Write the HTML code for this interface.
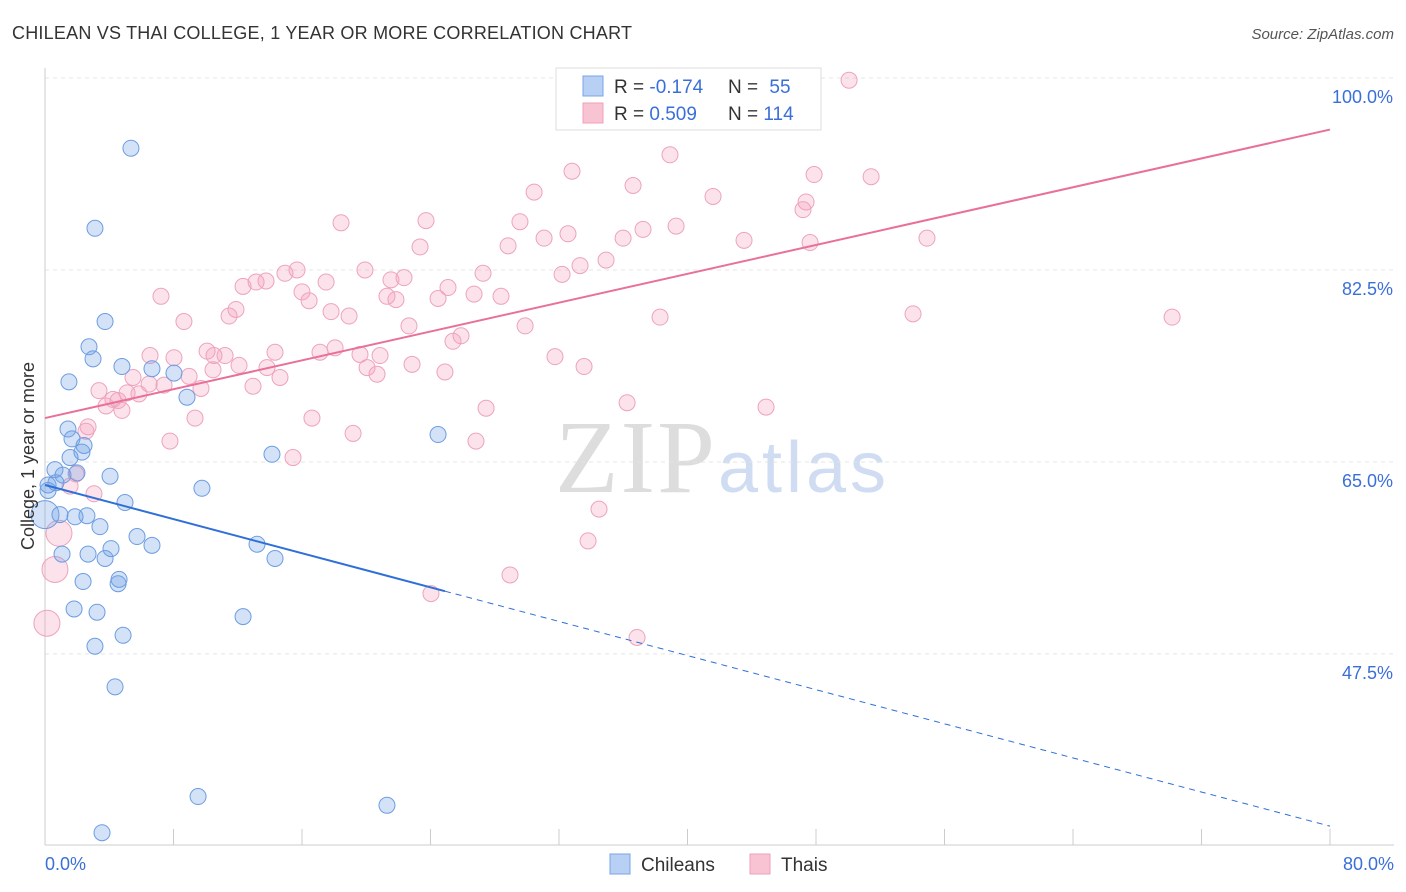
<!DOCTYPE html>
<html><head><meta charset="utf-8">
<style>
body{margin:0;background:#fff;font-family:"Liberation Sans",sans-serif;}
svg{display:block}
</style></head>
<body>
<svg id="chart" width="1406" height="892" xmlns="http://www.w3.org/2000/svg">
<text x="12" y="39" font-size="18" fill="#333" textLength="620">CHILEAN VS THAI COLLEGE, 1 YEAR OR MORE CORRELATION CHART</text>
<text x="1394" y="39" font-size="15" fill="#555" text-anchor="end" font-style="italic">Source: ZipAtlas.com</text>
<text x="555" y="492" font-size="104" fill="#ddd" textLength="160" font-family="Liberation Serif">ZIP</text>
<text x="718" y="492" font-size="72" fill="#cfdcf2" textLength="168">atlas</text>
<g id="grid"></g>
<g id="axes"></g>
<g id="points"></g>
<g id="lines"></g>
<text transform="translate(34,456) rotate(-90)" font-size="18" fill="#333" text-anchor="middle">College, 1 year or more</text>
<text x="45" y="870" font-size="18" fill="#3a6fd8">0.0%</text>
<text x="1394" y="870" font-size="18" fill="#3a6fd8" text-anchor="end">80.0%</text>
<g>
<rect x="556" y="68" width="265" height="62" fill="#fff" stroke="#ddd"/>
<rect x="583" y="76" width="20" height="20" fill="#b8d0f4" stroke="#7aa4e4"/>
<rect x="583" y="103" width="20" height="20" fill="#f8c4d4" stroke="#ef9fbb"/>
<text x="614" y="93" font-size="19" fill="#333">R = <tspan fill="#3a6fd8">-0.174</tspan></text>
<text x="728" y="93" font-size="19" fill="#333">N = <tspan fill="#3a6fd8" dx="6">55</tspan></text>
<text x="614" y="120" font-size="19" fill="#333">R = <tspan fill="#3a6fd8">0.509</tspan></text>
<text x="728" y="120" font-size="19" fill="#333">N = <tspan fill="#3a6fd8">114</tspan></text>
</g>
<g>
<rect x="610" y="854" width="20" height="20" fill="#b8d0f4" stroke="#7aa4e4"/>
<text x="641" y="871" font-size="19" fill="#333">Chileans</text>
<rect x="750" y="854" width="20" height="20" fill="#f8c4d4" stroke="#ef9fbb"/>
<text x="781" y="871" font-size="19" fill="#333">Thais</text>
</g>
</svg>
<script>
const yTicks=[100,82.5,65,47.5];
const xTicks=[0,8,16,24,32,40,48,56,64,72,80];
const chileX=[5.35,3.11,3.74,2.74,2.99,4.79,6.66,8.03,1.49,8.84,1.43,1.68,2.43,2.30,1.56,24.47,14.13,9.77,4.05,1.99,0.62,1.12,0.19,0.68,4.98,0.93,1.87,2.61,3.42,5.73,6.66,4.11,1.06,2.68,3.74,13.2,14.32,2.37,4.61,4.55,1.81,3.24,12.33,4.86,3.11,4.36,9.53,21.29,3.55,0.19];
const chileY=[93.6,86.3,77.8,75.5,74.4,73.7,73.5,73.1,72.3,70.9,68.0,67.1,66.5,65.9,65.4,67.5,65.7,62.6,63.7,64.0,64.3,63.8,62.9,63.1,61.3,60.2,60.0,60.1,59.1,58.2,57.4,57.1,56.6,56.6,56.2,57.5,56.2,54.1,54.3,53.9,51.6,51.3,50.9,49.2,48.2,44.5,34.5,33.7,31.2,62.4];
const chileBigX=[0];
const chileBigY=[60.2];
const thaiX=[50.06,38.91,32.81,36.61,30.45,41.59,47.88,51.43,47.38,47.19,23.72,29.57,18.43,31.07,32.56,35.99,37.23,39.29,43.52,54.91,47.63,28.83,23.35,34.93,33.31,32.19,27.27,19.92,22.35,21.54,15.69,14.94,17.5,13.76,13.14,12.33,7.22,16.0,16.44,21.29,21.85,24.47,25.09,26.71,28.39,11.89,11.46,8.65,17.81,18.93,22.66,29.89,54.04,70.17,38.29,25.9,25.4,18.06,17.12,14.32,19.61,20.86,6.54,8.03,10.09,10.52,11.21,12.08,13.82,10.46,8.97,5.48,6.48,7.41,20.05,20.67,22.85,24.9,31.75,33.56,3.36,5.11,5.85,4.23,4.55,3.8,4.79,9.71,12.95,14.63,9.34,27.46,36.24,44.89,16.62,7.78,19.18,26.83,2.68,2.55,15.44,1.93,1.56,3.05,34.49,33.81,28.95,24.03,36.86];
const thaiY=[99.8,93.0,91.5,90.2,89.6,89.2,91.2,91.0,88.7,88.0,87.0,86.9,86.8,85.4,85.8,85.4,86.2,86.5,85.2,85.4,85.0,84.7,84.6,83.4,82.9,82.1,82.2,82.5,81.8,81.6,82.5,82.2,81.4,81.5,81.4,81.0,80.1,80.5,79.7,80.1,79.8,79.9,80.9,80.3,80.1,78.9,78.3,77.8,78.7,78.3,77.4,77.4,78.5,78.2,78.2,76.5,76.0,75.4,75.0,75.0,74.8,74.7,74.7,74.5,75.1,74.7,74.7,73.8,73.6,73.4,72.8,72.7,72.1,72.0,73.6,73.0,73.9,73.2,74.6,73.7,71.5,71.3,71.2,70.7,70.6,70.1,69.7,71.7,71.9,72.7,69.0,69.9,70.4,70.0,69.0,66.9,67.6,66.9,68.2,67.8,65.4,63.9,62.8,62.1,60.7,57.8,54.7,53.0,49.0];
const thaiBigX=[0.87,0.62,0.12];
const thaiBigY=[58.5,55.2,50.3];
const chileTrend=[62.9,31.8];
const chileSolidEnd=24.9;
const thaiTrend=[69.0,95.3];

const NS="http://www.w3.org/2000/svg";
const X=v=>45+v/80*1285;
const Y=v=>78+(100-v)*10.97;
function mk(tag,attrs,parent){const e=document.createElementNS(NS,tag);for(const k in attrs)e.setAttribute(k,attrs[k]);parent.appendChild(e);return e;}
const grid=document.getElementById('grid'),axes=document.getElementById('axes'),pts=document.getElementById('points'),lines=document.getElementById('lines');
yTicks.forEach(t=>{
  const l=mk('line',{x1:45,x2:1394,y1:Y(t),y2:Y(t),stroke:'#e4e4e4','stroke-dasharray':'4,4'},grid);
  
  
  const tx=mk('text',{x:1393,y:Y(t)+25,'font-size':18,fill:'#3a6fd8','text-anchor':'end'},grid);
  tx.textContent=t.toFixed(1)+'%';
  
  
});
const ya=mk('line',{x1:45,x2:45,y1:68,y2:845,stroke:'#ccc'},axes);


const xa=mk('line',{x1:45,x2:1394,y1:845,y2:845,stroke:'#ccc'},axes);


xTicks.forEach(t=>{
  const l=mk('line',{x1:X(t),x2:X(t),y1:829,y2:845,stroke:'#ccc'},axes);
  
  
});
function dot(x,y,r,fill,stroke,name){
  const c=mk('circle',{cx:X(x),cy:Y(y),r:r,fill:fill,stroke:stroke,'stroke-width':1},pts);
  
  
}
thaiX.forEach((x,i)=>dot(x,thaiY[i],8,'rgba(244,160,190,0.3)','#eea3bd','thai-point'));
thaiBigX.forEach((x,i)=>dot(x,thaiBigY[i],13,'rgba(244,160,190,0.3)','#eea3bd','thai-point'));
chileX.forEach((x,i)=>dot(x,chileY[i],8,'rgba(110,160,230,0.3)','#6c9de2','chilean-point'));
chileBigX.forEach((x,i)=>dot(x,chileBigY[i],14,'rgba(110,160,230,0.3)','#6c9de2','chilean-point'));
const cy=x=>chileTrend[0]+(chileTrend[1]-chileTrend[0])*x/80;
const l1=mk('line',{x1:X(0),y1:Y(cy(0)),x2:X(chileSolidEnd),y2:Y(cy(chileSolidEnd)),stroke:'#2f6fd8','stroke-width':2},lines);


const l2=mk('line',{x1:X(chileSolidEnd),y1:Y(cy(chileSolidEnd)),x2:X(80),y2:Y(cy(80)),stroke:'#2f6fd8','stroke-width':1,'stroke-dasharray':'6,5'},lines);


const l3=mk('line',{x1:X(0),y1:Y(thaiTrend[0]),x2:X(80),y2:Y(thaiTrend[1]),stroke:'#e8709a','stroke-width':2},lines);


</script>
</body></html>
